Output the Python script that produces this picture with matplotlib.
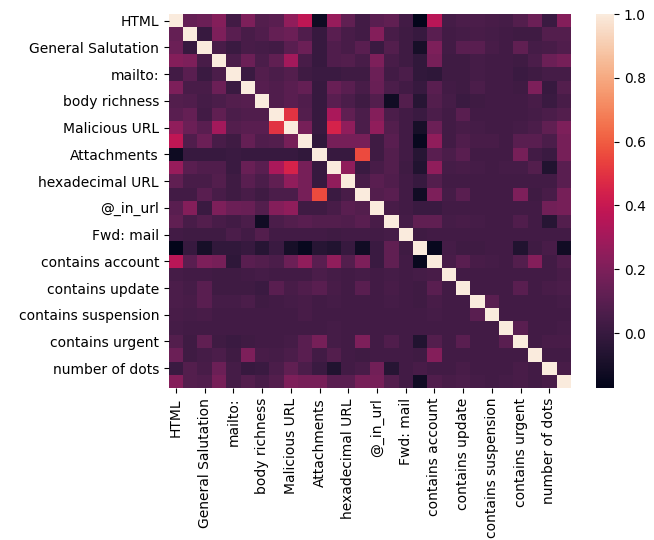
import numpy as np
import pandas as pd
import matplotlib
matplotlib.use('Agg')
import matplotlib.pyplot as plt
import seaborn as sns

# labels shown on the axes (every second feature)
shown_labels = ['HTML', 'General Salutation', 'mailto:', 'body richness', 'Malicious URL',
                'Attachments', 'hexadecimal URL', '@_in_url', 'Fwd: mail', 'contains account',
                'contains update', 'contains suspension', 'contains urgent', 'number of dots']

# upper triangle of the correlation matrix, row i holds cols i+1 .. 27
r00 = [0.13, 0.15, 0.22, 0.03, 0.2, 0.08, 0.1, 0.25, 0.38, -0.13, 0.27, 0.12, 0.03,
       0.1, 0.12, 0.03, -0.173, 0.36, 0.04, 0.06, 0.06, 0.05, 0.04, 0.08, 0.15, 0.01, 0.22]
r01 = [0.0, 0.2, 0.1, 0.05, 0.07, 0.13, 0.15, 0.07, 0.0, 0.1, 0.05, 0.03,
       0.22, 0.05, 0.02, 0.0, 0.1, 0.03, 0.04, 0.05, 0.04, 0.03, 0.02, 0.02, 0.08, 0.08]
r02 = [0.05, 0.01, 0.05, 0.04, 0.03, 0.1, 0.15, 0.0, 0.07, 0.05, 0.1,
       0.01, 0.08, 0.02, -0.1, 0.2, 0.03, 0.1, 0.1, 0.05, 0.03, 0.12, 0.04, 0.05, 0.07]
r03 = [0.06, 0.15, 0.06, 0.12, 0.3, 0.05, 0.0, 0.07, 0.08, 0.05,
       0.2, 0.05, 0.02, -0.02, 0.18, 0.02, 0.02, 0.04, 0.03, 0.03, 0.02, 0.06, 0.15, 0.18]
r04 = [0.01, 0.08, 0.06, 0.08, 0.02, 0.01, 0.01, 0.02, 0.02,
       0.15, 0.03, 0.06, -0.02, -0.03, 0.02, 0.02, 0.04, 0.03, 0.03, 0.01, 0.02, 0.04, 0.04]
r05 = [0.09, 0.07, 0.1, 0.13, 0.0, 0.14, 0.1, 0.05,
       0.14, 0.06, 0.03, 0.0, 0.1, 0.03, 0.02, 0.06, 0.03, 0.03, 0.02, 0.2, 0.0, 0.08]
r06 = [0.07, 0.1, 0.07, 0.0, 0.1, 0.06, 0.02,
       0.08, -0.12, 0.08, -0.05, 0.08, 0.04, 0.01, 0.02, 0.03, 0.03, 0.03, 0.05, 0.01, 0.05]
r07 = [0.5, 0.08, 0.0, 0.32, 0.12, 0.06,
       0.22, 0.06, 0.03, 0.01, 0.06, 0.03, 0.1, 0.03, 0.03, 0.03, 0.03, 0.04, 0.06, 0.08]
r08 = [0.18, 0.0, 0.45, 0.25, 0.06,
       0.25, 0.08, 0.03, -0.1, 0.15, 0.03, 0.05, 0.04, 0.03, 0.03, 0.04, 0.06, 0.12, 0.2]
r09 = [-0.02, 0.18, 0.18, 0.18,
       0.02, 0.1, 0.03, -0.15, 0.25, 0.03, 0.07, 0.05, 0.05, 0.03, 0.1, 0.1, 0.06, 0.18]
r10 = [0.0, 0.0, 0.56,
       0.02, 0.08, 0.03, -0.05, 0.1, 0.06, 0.1, 0.03, 0.03, 0.03, 0.18, 0.03, 0.01, 0.18]
r11 = [0.25, 0.01,
       0.05, 0.08, 0.02, -0.07, 0.25, 0.04, 0.05, 0.04, 0.03, 0.04, 0.04, 0.08, -0.07, 0.1]
r12 = [0.05,
       0.1, 0.07, 0.03, 0.0, 0.08, 0.03, 0.03, 0.03, 0.03, 0.03, 0.03, 0.03, 0.03, 0.1]
r13 = [0.08, 0.1, 0.03, -0.12, 0.2, 0.04, 0.1, 0.03, 0.03, 0.03, 0.2, 0.02, 0.05, 0.18]
r14 = [0.05, 0.03, 0.01, 0.01, 0.03, 0.03, 0.03, 0.03, 0.03, 0.03, 0.03, 0.17, 0.18]
r15 = [0.04, 0.12, 0.12, 0.04, 0.05, 0.04, 0.03, 0.03, 0.07, 0.03, -0.05, 0.08]
r16 = [0.02, 0.03, 0.03, 0.03, 0.03, 0.03, 0.03, 0.03, 0.03, 0.03, 0.03]
r17 = [-0.15, 0.04, 0.02, 0.02, 0.03, 0.03, -0.07, 0.02, 0.05, -0.12]
r18 = [0.05, 0.1, 0.05, 0.04, 0.03, 0.08, 0.22, 0.03, 0.07]
r19 = [0.03, 0.03, 0.03, 0.03, 0.03, 0.03, 0.03, 0.05]
r20 = [0.03, 0.03, 0.03, 0.1, 0.03, 0.05, 0.06]
r21 = [0.1, 0.03, 0.03, 0.03, 0.03, 0.04]
r22 = [0.03, 0.03, 0.03, 0.03, 0.03]
r23 = [0.1, 0.03, 0.03, 0.04]
r24 = [0.03, 0.05, 0.05]
r25 = [0.03, 0.03]
r26 = [0.05]

upper = [r00, r01, r02, r03, r04, r05, r06, r07, r08, r09, r10, r11, r12, r13,
         r14, r15, r16, r17, r18, r19, r20, r21, r22, r23, r24, r25, r26]

n = len(upper) + 1
corr = np.eye(n)
for i, row in enumerate(upper):
    corr[i, i + 1:] = row
    corr[i + 1:, i] = row

fig = plt.figure(figsize=(6.54, 5.40), dpi=100)
ax = fig.add_axes([0.258, 0.281, 0.615, 0.693])
cax = fig.add_axes([0.911, 0.281, 0.028, 0.693])

sns.heatmap(corr, ax=ax, cbar_ax=cax, xticklabels=False, yticklabels=False)

ticks = np.arange(0, n, 2) + 0.5
ax.set_xticks(ticks)
ax.set_xticklabels(shown_labels, rotation=90)
ax.set_yticks(ticks)
ax.set_yticklabels(shown_labels, rotation=0)

fig.savefig('out.png', dpi=100)
